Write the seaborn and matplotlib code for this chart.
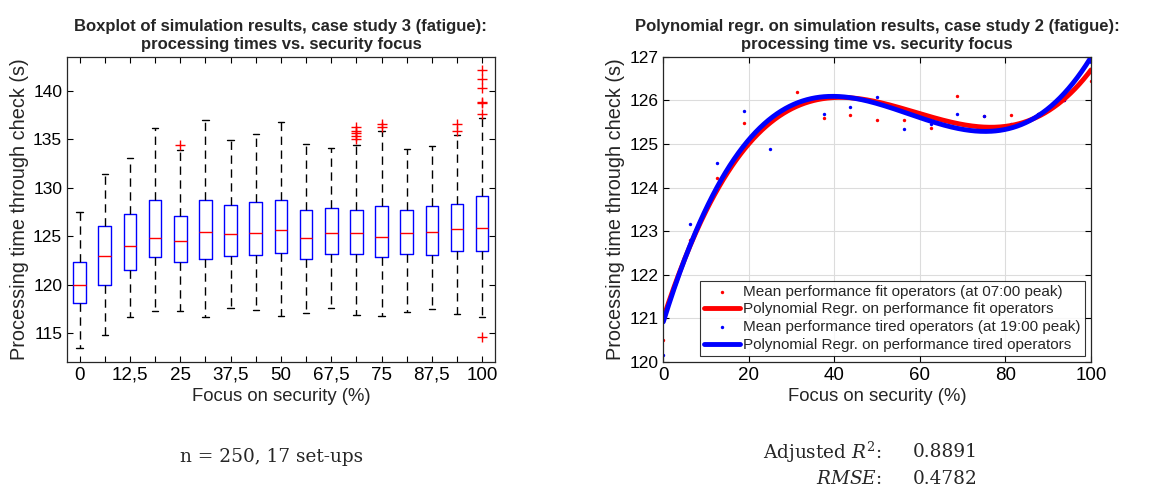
import numpy as np
import pandas as pd
import matplotlib
matplotlib.use("Agg")
import matplotlib.pyplot as plt
import seaborn as sns

# --- left panel: boxplot stats per focus set-up
focus_labels = ["0", "", "12,5", "", "25", "", "37,5", "", "50", "", "67,5", "", "75", "", "87,5", "", "100"]
box_q1 = [118.1, 120.0, 121.45, 122.8, 122.35, 122.6, 122.9, 123.0, 123.3, 122.65, 123.2, 123.1, 122.8, 123.1, 123.0, 123.5, 123.5]
box_med = [120.0, 122.9, 124.0, 124.85, 124.5, 125.4, 125.2, 125.3, 125.6, 124.8, 125.35, 125.3, 124.95, 125.3, 125.45, 125.7, 125.8]
box_q3 = [122.3, 126.0, 127.3, 128.75, 127.1, 128.7, 128.2, 128.55, 128.75, 127.65, 127.85, 127.65, 128.1, 127.65, 128.1, 128.3, 129.1]
whisk_lo = [113.4, 114.8, 116.65, 117.3, 117.3, 116.65, 117.6, 117.35, 116.7, 117.1, 117.6, 116.9, 116.8, 117.2, 117.5, 117.0, 116.6]
whisk_hi = [127.45, 131.4, 133.1, 136.2, 133.9, 137.0, 134.9, 135.5, 136.8, 134.5, 134.1, 134.4, 135.9, 134.0, 134.35, 135.4, 137.2]
outliers = [[], [], [], [], [134.4], [], [], [], [], [], [],
            [136.3, 135.8, 135.6, 135.3, 135.0], [136.6, 136.3], [], [],
            [136.6, 135.8], [142.1, 141.2, 140.3, 138.8, 138.7, 137.6, 114.6]]

# --- right panel: mean processing time per focus level
focus = [0, 6.25, 12.5, 18.75, 25, 31.25, 37.5, 43.75, 50, 56.25, 62.5, 68.75, 75, 81.25, 87.5, 93.75, 100]
mean_fit = [120.5, 122.8, 124.22, 125.48, 125.5, 126.19, 125.59, 125.66, 125.55, 125.56, 125.38, 126.1, 125.64, 125.66, 125.69, 126.0, 126.45]
mean_tired = [120.15, 123.16, 124.57, 125.76, 124.89, 125.9, 125.68, 125.84, 126.08, 125.34, 125.45, 125.7, 125.64, 125.47, 125.7, 126.0, 126.89]

sns.set_style("ticks")
plt.rcParams["font.family"] = ["Liberation Sans", "DejaVu Sans"]
plt.rcParams["mathtext.fontset"] = "dejavuserif"

fig = plt.figure(figsize=(11.56, 4.99), dpi=100)
ax1 = fig.add_axes([0.058, 0.2745, 0.370, 0.6115])
ax2 = fig.add_axes([0.5738, 0.2745, 0.370, 0.6115])

# boxplot (MATLAB look)
stats = []
for i in range(len(box_med)):
    stats.append(dict(med=box_med[i], q1=box_q1[i], q3=box_q3[i],
                      whislo=whisk_lo[i], whishi=whisk_hi[i],
                      fliers=outliers[i], label=focus_labels[i]))
ax1.bxp(stats, widths=0.5, capwidths=0.25,
        boxprops=dict(color="blue", linewidth=1),
        medianprops=dict(color="red", linewidth=1),
        whiskerprops=dict(color="black", linestyle=(0, (6, 4)), linewidth=1),
        capprops=dict(color="black", linewidth=1),
        flierprops=dict(marker="+", markeredgecolor="red", markersize=7, linestyle="none"))
ax1.set_xlim(0.5, 17.5)
ax1.set_ylim(112, 143.5)
ax1.set_yticks([115, 120, 125, 130, 135, 140])
ax1.set_title("Boxplot of simulation results, case study 3 (fatigue):\nprocessing times vs. security focus",
              fontsize=12, fontweight="bold", pad=6)

# regression panel
xs = np.linspace(0, 100, 400)
curve_fit = np.polyval(np.polyfit(focus, mean_fit, 3), xs)
curve_tired = np.polyval(np.polyfit(focus, mean_tired, 3), xs)

sns.scatterplot(x=focus, y=mean_fit, ax=ax2, color="red", s=6, linewidth=0,
                label="Mean performance fit operators (at 07:00 peak)")
sns.lineplot(x=xs, y=curve_fit, ax=ax2, color="red", linewidth=3.5,
             label="Polynomial Regr. on performance fit operators")
sns.scatterplot(x=focus, y=mean_tired, ax=ax2, color="blue", s=6, linewidth=0,
                label="Mean performance tired operators (at 19:00 peak)")
sns.lineplot(x=xs, y=curve_tired, ax=ax2, color="blue", linewidth=3.5,
             label="Polynomial Regr. on performance tired operators")
ax2.set_xlim(0, 100)
ax2.set_ylim(120, 127)
ax2.set_xticks([0, 20, 40, 60, 80, 100])
ax2.set_yticks(range(120, 128))
ax2.grid(True, color="#dcdcdc", linewidth=0.8)
ax2.set_axisbelow(True)
ax2.set_title("Polynomial regr. on simulation results, case study 2 (fatigue):\nprocessing time vs. security focus",
              fontsize=12, fontweight="bold", pad=6)
leg = ax2.legend(loc="lower right", bbox_to_anchor=(0.985, 0.02), fontsize=11,
                 frameon=True, fancybox=False, edgecolor="black", handlelength=2.4,
                 handletextpad=0.2, borderpad=0.25, labelspacing=0.25, borderaxespad=0)
leg.get_frame().set_linewidth(0.8)

for ax in (ax1, ax2):
    ax.set_xlabel("Focus on security (%)", fontsize=13.3, labelpad=3)
    ax.set_ylabel("Processing time through check (s)", fontsize=14.3, labelpad=3)
    ax.tick_params(direction="in", bottom=True, left=True, top=True, right=True,
                   length=4, width=0.8, colors="black")
    ax.tick_params(axis="x", labelsize=13.5)
    ax.tick_params(axis="y", labelsize=12.5)
    for s in ax.spines.values():
        s.set_visible(True)
        s.set_color("#262626")
        s.set_linewidth(0.9)

# notes under the panels
serif = ["DejaVu Serif"]
fig.text(0.2345, 0.085, "n = 250, 17 set-ups", ha="center", va="center",
         fontsize=13.3, family=serif)
fig.text(0.763, 0.094, "Adjusted $R^2$:", ha="right", va="center", fontsize=13.3, family=serif)
fig.text(0.79, 0.094, "0.8891", ha="left", va="center", fontsize=13.3, family=serif)
fig.text(0.763, 0.040, "$RMSE$:", ha="right", va="center", fontsize=13.3, family=serif)
fig.text(0.79, 0.040, "0.4782", ha="left", va="center", fontsize=13.3, family=serif)

fig.savefig("out.png", dpi=100)
